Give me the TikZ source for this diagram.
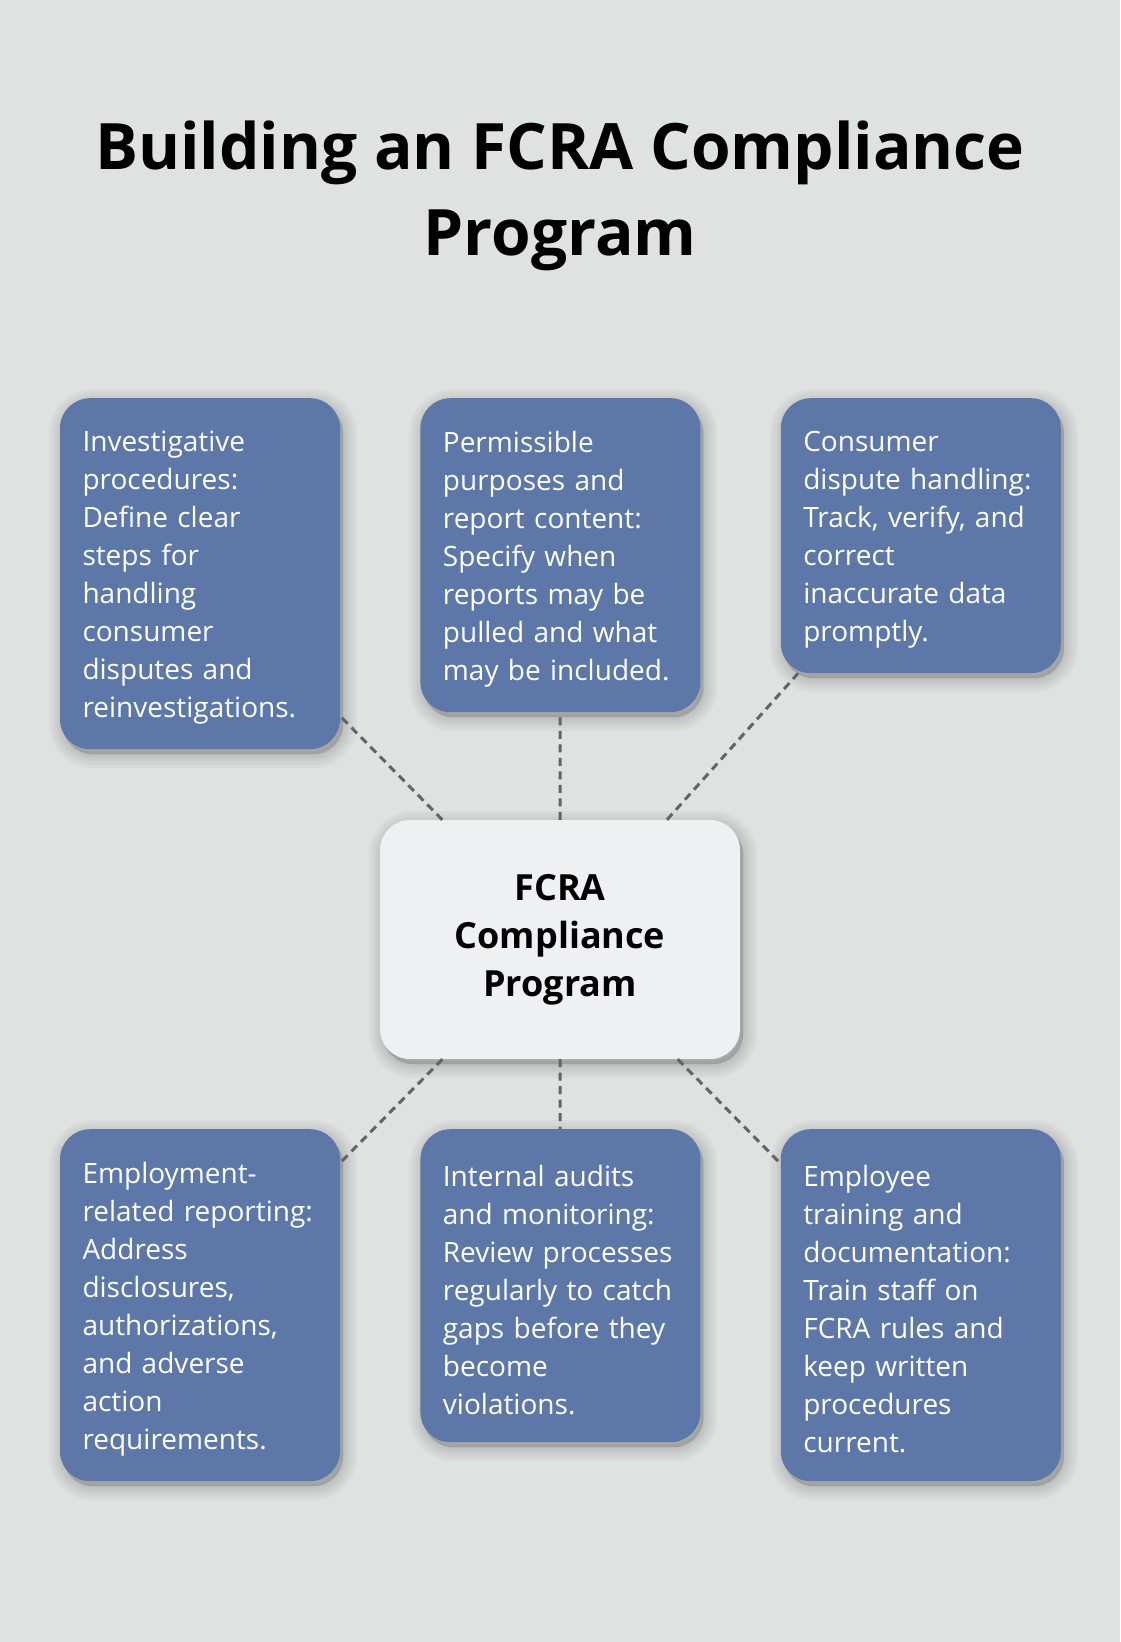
\documentclass[tikz,border=0pt]{standalone}
\usepackage{fontspec}
\setmainfont{Open Sans}
\usetikzlibrary{positioning}

\definecolor{pagebg}{HTML}{E0E2E1}
\definecolor{cardblue}{HTML}{5C77A8}
\definecolor{hubfill}{HTML}{EFF0F2}
\definecolor{linkgray}{HTML}{646464}

\tikzset{
    shadowlayer/.style={preaction={draw=black, fill=black, opacity=0.028, line width=#1,
        transform canvas={xshift=3pt, yshift=-5pt}}},
    softshadow/.style={shadowlayer=28pt, shadowlayer=22pt, shadowlayer=16pt,
        shadowlayer=11pt, shadowlayer=6pt, shadowlayer=1pt}
}

\begin{document}
\begin{tikzpicture}[
    x=1pt, y=-1pt,
    card/.style={rectangle, rounded corners=30pt, fill=cardblue, text=white, align=left,
        text width=235pt, inner xsep=22.5pt, inner ysep=0pt, anchor=north,
        font=\fontsize{28}{38}\selectfont, execute at begin node={\rule{0pt}{29pt}}, softshadow},
    hub/.style={rectangle, rounded corners=30pt, fill=hubfill, align=center,
        minimum width=360pt, minimum height=239pt,
        font=\fontsize{36}{48}\selectfont\bfseries, execute at begin node={\rule{0pt}{38pt}}, softshadow},
    link/.style={draw=linkgray, line width=3pt, dash pattern=on 8pt off 5.5pt}
]

% Page
\useasboundingbox (0,0) rectangle (1120,1642);
\fill[pagebg] (0,0) rectangle (1120,1642);

% Title
\node[font=\fontsize{64}{86}\selectfont\bfseries, align=center] (title) at (560,196)
    {Building an FCRA Compliance\\ Program};

% Central node
\node[hub] (fcra) at (560,939.5) {FCRA\\ Compliance\\ Program};

% Top row
\node[card, minimum height=351pt] (invest) at (200,398)
    {Investigative\\ procedures:\\ Define clear\\ steps for\\ handling\\ consumer\\ disputes and\\ reinvestigations.};
\node[card, minimum height=314pt, right=80pt of invest.north east, anchor=north west] (purpose)
    {Permissible\\ purposes and\\ report content:\\ Specify when\\ reports may be\\ pulled and what\\ may be included.};
\node[card, minimum height=275pt, right=80pt of purpose.north east, anchor=north west] (dispute)
    {Consumer\\ dispute handling:\\ Track, verify, and\\ correct\\ inaccurate data\\ promptly.};

% Bottom row
\node[card, minimum height=352pt] (employ) at (200,1129)
    {Employment-\\ related reporting:\\ Address\\ disclosures,\\ authorizations,\\ and adverse\\ action\\ requirements.};
\node[card, minimum height=313pt, right=80pt of employ.north east, anchor=north west] (audit)
    {Internal audits\\ and monitoring:\\ Review processes\\ regularly to catch\\ gaps before they\\ become\\ violations.};
\node[card, minimum height=352pt, right=80pt of audit.north east, anchor=north west] (train)
    {Employee\\ training and\\ documentation:\\ Train staff on\\ FCRA rules and\\ keep written\\ procedures\\ current.};

% Links to the hub
\foreach \n in {invest, purpose, dispute, employ, audit, train}
    \draw[link] (fcra) -- (\n);

\end{tikzpicture}
\end{document}
